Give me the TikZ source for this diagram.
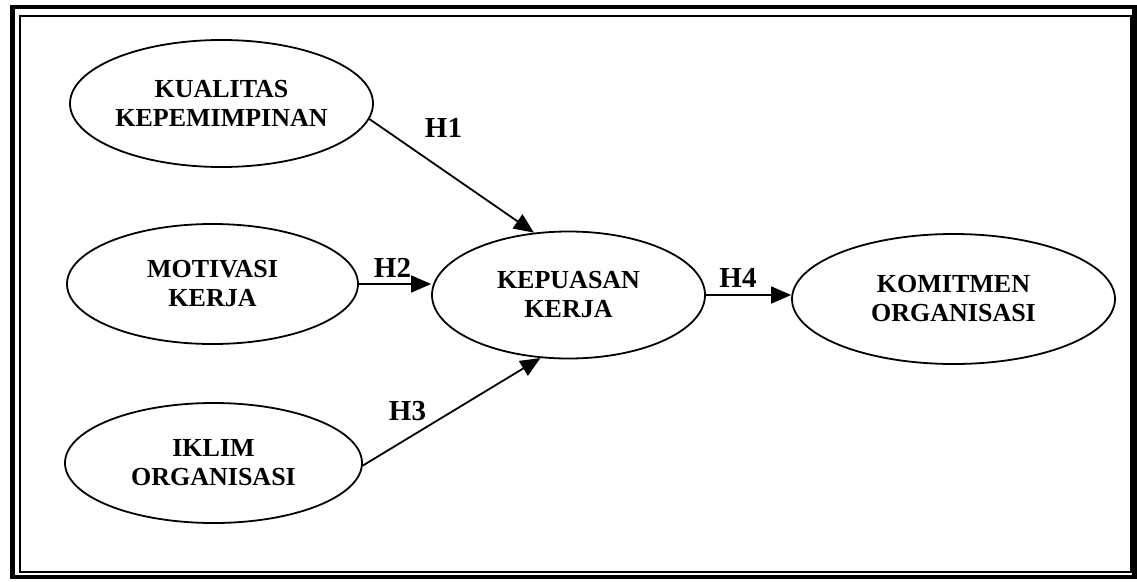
\documentclass[tikz,border=0pt]{standalone}
\usepackage{fontspec}
\setmainfont{Liberation Serif}
\usetikzlibrary{shapes.geometric,arrows.meta}
\tikzset{
  var/.style={draw, ellipse, line width=1.8pt, inner sep=0pt, align=center,
    font=\bfseries\fontsize{26}{29}\selectfont},
  hyp/.style={line width=1.8pt, -{Triangle[length=20pt,width=17pt]}},
  hlabel/.style={font=\bfseries\fontsize{29}{30}\selectfont, inner sep=0pt}
}
\begin{document}
\begin{tikzpicture}[x=1pt,y=-1pt]
\useasboundingbox (0,0) rectangle (1137,581);
\fill[white] (0,0) rectangle (1137,581);
% double frame
\draw[line width=4.5pt] (12.5,7) rectangle (1134.5,577);
\draw[line width=1.5pt] (20,16) rectangle (1131,572);
% variables
\node[var, minimum width=303pt, minimum height=127pt] (kk) at (221.5,103.5) {KUALITAS\\KEPEMIMPINAN};
\node[var, minimum width=291pt, minimum height=120pt] (km) at (212.5,284) {MOTIVASI\\KERJA};
\node[var, minimum width=297pt, minimum height=120pt] (io) at (213.5,463) {IKLIM\\ORGANISASI};
\node[var, minimum width=273pt, minimum height=127pt] (kp) at (568.5,295) {KEPUASAN\\KERJA};
\node[var, minimum width=323pt, minimum height=130pt] (ko) at (953.5,299) {KOMITMEN\\ORGANISASI};
% hypotheses
\draw[hyp] (kk.-6) -- (kp.119);
\draw[hyp] (km.east) -- (km.east -| kp.west);
\draw[hyp] (io.-1) -- (kp.246);
\draw[hyp] (kp.east) -- (kp.east -| ko.west);
% labels
\node[hlabel] (h1) at (443.5,127.5) {H1};
\node[hlabel] (h2) at (392.5,267.5) {H2};
\node[hlabel] (h3) at (407.5,411) {H3};
\node[hlabel] (h4) at (738,277.5) {H4};
\end{tikzpicture}
\end{document}
